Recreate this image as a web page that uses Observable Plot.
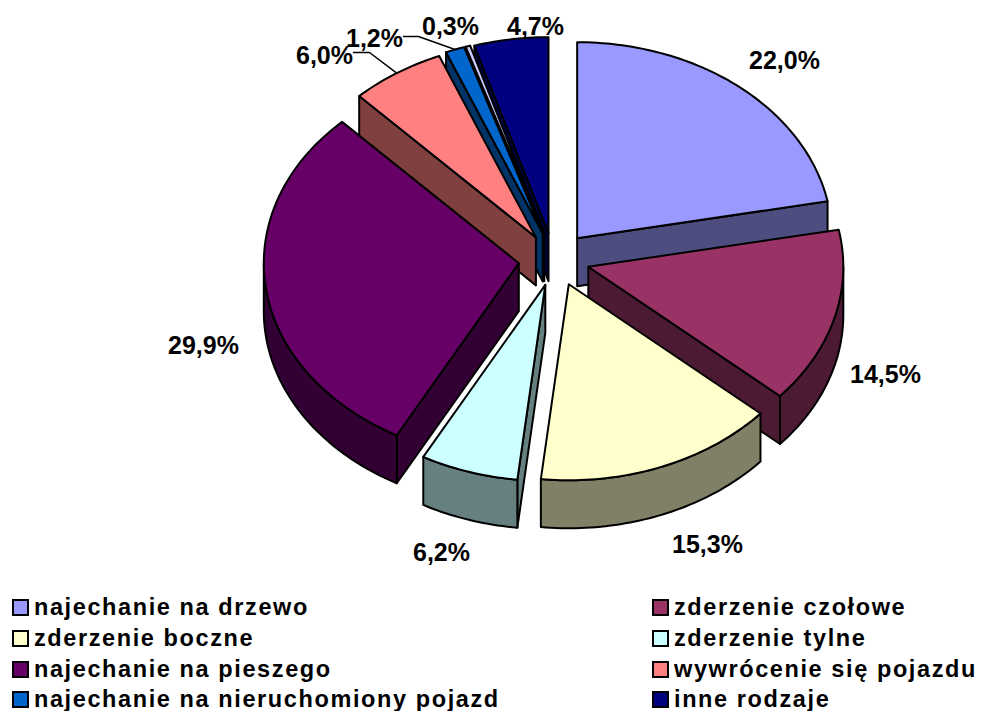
<!DOCTYPE html>
<html><head><meta charset="utf-8">
<script src="https://cdn.jsdelivr.net/npm/d3@7"></script>
<script src="https://cdn.jsdelivr.net/npm/@observablehq/plot@0.6"></script>
<style>
html,body{margin:0;padding:0;background:#fff}
#chart svg{display:block}
#legend{display:grid;grid-template-columns:640px 332px;grid-template-rows:30px 32px 30px 30px;padding:2px 0 0 12px;
 font:bold 23.5px "Liberation Sans",Arial,sans-serif;letter-spacing:1.6px;color:#000;white-space:nowrap}
#legend div{display:flex;align-items:center}
#legend i{display:block;box-sizing:border-box;width:17px;height:17px;border:2px solid #000;margin-right:5px;flex:none}
</style></head><body>
<div id="chart"></div><div id="legend"></div>
<script>
const categories = ["najechanie na drzewo","zderzenie czołowe","zderzenie boczne","zderzenie tylne","najechanie na pieszego","wywrócenie się pojazdu","najechanie na nieruchomiony pojazd",null,"inne rodzaje"];
const values = [22.0,14.5,15.3,6.2,29.9,6.0,1.2,0.3,4.7];
const colors = ["#9999FF","#993366","#FFFFCC","#CCFFFF","#660066","#FF8080","#0066CC","#CCCCFF","#000080"];
const labelPositions = [[784,60],[885,374],[707,544],[441,552],[203,345],[324,55],[374,38],[450,26],[535,26]];
const leaderFrom = {5:[353,52,369,52],6:[403,36,418,36]};
const sliceNudge = [[0,0],[0,0],[1,-1],[0,-1],[-3,0],[-1,1],[-1,0],[-1,0],[-2,1]];

const cx=555, cy=259, ra=255, rb=196, ea=34, eb=27.6, depth=48;
const total=d3.sum(values);
const fmt=v=>v.toFixed(1).replace(".",",")+"%";
const half=c=>{const r=d3.rgb(c);return d3.rgb(r.r/2,r.g/2,r.b/2).formatHex()};
let cum=0;
const slices=values.map((v,i)=>{const t0=cum/total*2*Math.PI;cum+=v;const t1=cum/total*2*Math.PI;const m=(t0+t1)/2;
  return {i,t0,t1,m,ax:cx+ea*Math.sin(m)+sliceNudge[i][0],ay:cy-eb*Math.cos(m)+sliceNudge[i][1]}});
const rim=(s,t)=>[s.ax+ra*Math.sin(t),s.ay-rb*Math.cos(t)];
const sweep=(a,b)=>{const n=Math.max(2,Math.ceil((b-a)/0.02));return d3.range(n+1).map(k=>a+(b-a)*k/n)};
const faces=[];
let key=0;
const add=(pts,fill)=>{key++;pts.forEach(p=>faces.push({x:p[0],y:p[1],z:key,fill}))};
[...slices].sort((a,b)=>Math.cos(b.m)-Math.cos(a.m)).forEach(s=>{
  const side=half(colors[s.i]), apex=[s.ax,s.ay], arc=sweep(s.t0,s.t1).map(t=>rim(s,t));
  const low=p=>[p[0],p[1]+depth];
  // only the faces turned towards the viewer
  if(Math.sin(s.t0)<0) add([apex,arc[0],low(arc[0]),low(apex)],side);
  if(Math.sin(s.t1)>0) add([apex,arc[arc.length-1],low(arc[arc.length-1]),low(apex)],side);
  const a=Math.max(s.t0,Math.PI/2), b=Math.min(s.t1,Math.PI*1.5);
  if(b>a){const front=sweep(a,b).map(t=>rim(s,t));add([...front,...front.map(low).reverse()],side);}
  add([apex,...arc],colors[s.i]);
});
const leaders=[];
Object.entries(leaderFrom).forEach(([i,l])=>{const s=slices[+i],e=rim(s,s.m);
  [[l[0],l[1]],[l[2],l[3]],e].forEach(p=>leaders.push({x:p[0],y:p[1],z:i}))});
const labels=values.map((v,i)=>({x:labelPositions[i][0],y:labelPositions[i][1],t:fmt(v)}));

document.getElementById("chart").append(Plot.plot({
  width:984,height:590,margin:0,
  x:{domain:[0,984],range:[0,984],axis:null},
  y:{domain:[0,590],range:[0,590],axis:null},
  color:{type:"identity"},
  marks:[
    Plot.line(faces,{x:"x",y:"y",z:"z",fill:"fill",stroke:"#000",strokeWidth:2,curve:"linear-closed",strokeLinejoin:"round"}),
    Plot.line(leaders,{x:"x",y:"y",z:"z",stroke:"#000",strokeWidth:1.5}),
    Plot.text(labels,{x:"x",y:"y",text:"t",fontSize:25,fontWeight:"bold",fontFamily:"Liberation Sans, Arial, sans-serif",fill:"#000",textAnchor:"middle",lineAnchor:"middle"})
  ]
}));
const leg=document.getElementById("legend");
categories.forEach((c,i)=>{if(c===null)return;
  const d=document.createElement("div"),b=document.createElement("i");
  b.style.background=colors[i];d.append(b,document.createTextNode(c));leg.append(d)});
</script>
</body></html>
